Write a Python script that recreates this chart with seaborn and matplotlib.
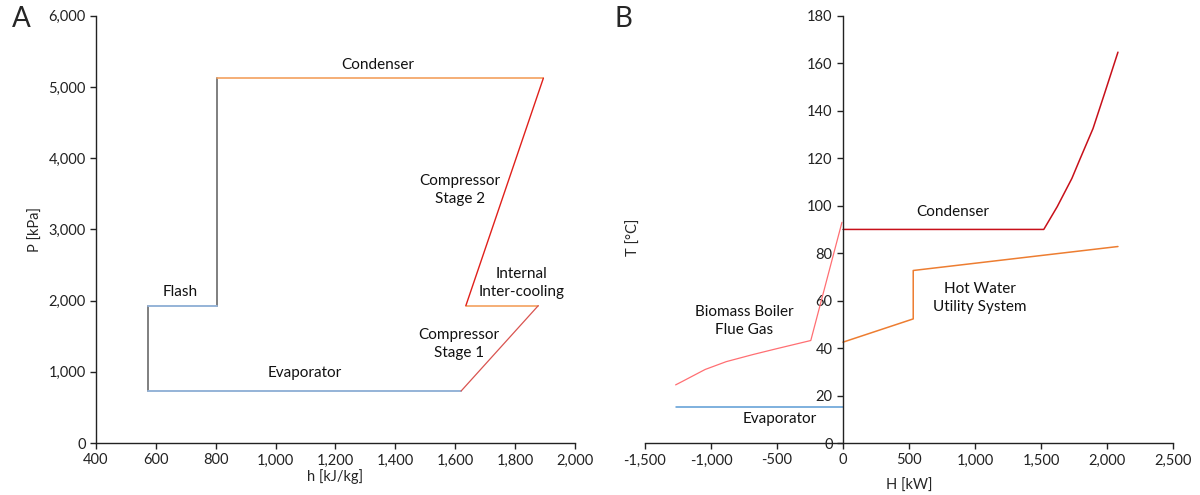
import numpy as np
import seaborn as sns
import pandas as pd
import matplotlib.pyplot as plt
from matplotlib.ticker import FuncFormatter

# ---- panel A: P-h diagram (kJ/kg, kPa)
evap_h = [573, 1620]
evap_p = [730, 730]
valve1_h = [573, 573]
valve1_p = [730, 1930]
flash_h = [573, 803]
flash_p = [1930, 1930]
valve2_h = [803, 803]
valve2_p = [1930, 5125]
cond_h = [803, 1895]
cond_p = [5125, 5125]
comp2_h = [1895, 1636]
comp2_p = [5125, 1930]
interc_h = [1636, 1878]
interc_p = [1930, 1930]
comp1_h = [1878, 1620]
comp1_p = [1930, 730]

# ---- panel B: T-H diagram (kW, degC)
b_evap_H = [-1268, 0]
b_evap_T = [15, 15]
flue_H = [-1268, -1219, -1130, -1044, -884, -681, -506, -244, -8]
flue_T = [24.5, 25.9, 28.5, 31.0, 34.3, 37.3, 39.7, 43.2, 93]
b_cond_H = [0, 1521, 1623, 1734, 1792, 1894, 1981, 2083]
b_cond_T = [90, 90, 99.6, 111.5, 119.2, 132.5, 147.2, 164.7]
hw_H = [0, 532, 532, 2083]
hw_T = [42.5, 52.3, 72.7, 82.8]

sns.set_style("ticks")
plt.rcParams["font.family"] = ["Lato", "DejaVu Sans"]
plt.rcParams["font.size"] = 10.5

fig = plt.figure(figsize=(12, 4.95), dpi=100)
axA = fig.add_axes([0.08, 0.105, 0.399, 0.863])
axB = fig.add_axes([0.5375, 0.105, 0.44, 0.863])

comma = FuncFormatter(lambda v, p: f"{v:,.0f}")


def seg(ax, x, y, color, lw=1.2):
    sns.lineplot(x=x, y=y, ax=ax, color=color, lw=lw, sort=False, estimator=None)


# A
seg(axA, valve1_h, valve1_p, "#7F7F7F", 1.4)
seg(axA, valve2_h, valve2_p, "#7F7F7F", 1.4)
seg(axA, evap_h, evap_p, "#95B3D7", 1.4)
seg(axA, flash_h, flash_p, "#95B3D7", 1.4)
seg(axA, cond_h, cond_p, "#F4A15F", 1.2)
seg(axA, interc_h, interc_p, "#F4A15F", 1.2)
seg(axA, comp2_h, comp2_p, "#E0201B", 1.0)
seg(axA, comp1_h, comp1_p, "#D9534F", 0.9)

axA.set_xlim(400, 2000)
axA.set_ylim(0, 6000)
axA.set_xticks(np.arange(400, 2001, 200))
axA.set_yticks(np.arange(0, 6001, 1000))
axA.xaxis.set_major_formatter(comma)
axA.yaxis.set_major_formatter(comma)
axA.set_xlabel("h [kJ/kg]", fontsize=10.5, labelpad=1)
axA.set_ylabel("P [kPa]", fontsize=10.5, labelpad=4)

txt = dict(ha="center", va="center", fontsize=11, color="#111111", linespacing=1.35)
axA.text(1342, 5310, "Condenser", **txt)
axA.text(1616, 3555, "Compressor\nStage 2", **txt)
axA.text(1823, 2250, "Internal\nInter-cooling", **txt)
axA.text(1612, 1390, "Compressor\nStage 1", **txt)
axA.text(1098, 985, "Evaporator", **txt)
axA.text(680, 2120, "Flash", **txt)

# B
seg(axB, b_evap_H, b_evap_T, "#5B9BD5", 1.1)
seg(axB, flue_H, flue_T, "#FF6F73", 0.9)
seg(axB, b_cond_H, b_cond_T, "#C8101A", 1.1)
seg(axB, hw_H, hw_T, "#ED7D31", 1.1)

axB.set_xlim(-1500, 2500)
axB.set_ylim(0, 180)
axB.set_xticks(np.arange(-1500, 2501, 500))
axB.set_yticks(np.arange(0, 181, 20))
axB.xaxis.set_major_formatter(comma)
axB.spines["left"].set_position(("data", 0))
axB.set_xlabel("H [kW]", fontsize=10.5, labelpad=8)
axB.set_ylabel("")
fig.text(0.528, 0.52, "T [°C]", rotation=90, ha="center", va="center", fontsize=10.5)

axB.text(833, 97.4, "Condenser", **txt)
axB.text(-750, 51.5, "Biomass Boiler\nFlue Gas", **txt)
axB.text(1038, 61, "Hot Water\nUtility System", **txt)
axB.text(-477, 10, "Evaporator", **txt)

for ax in (axA, axB):
    sns.despine(ax=ax)
    ax.tick_params(direction="out", length=4, width=1, colors="#222222", labelsize=10.5)
    for s in ("left", "bottom"):
        ax.spines[s].set_color("#222222")
        ax.spines[s].set_linewidth(1.0)

fig.text(0.01, 0.945, "A", fontsize=20)
fig.text(0.512, 0.945, "B", fontsize=20)

fig.savefig("out.png", dpi=100)
